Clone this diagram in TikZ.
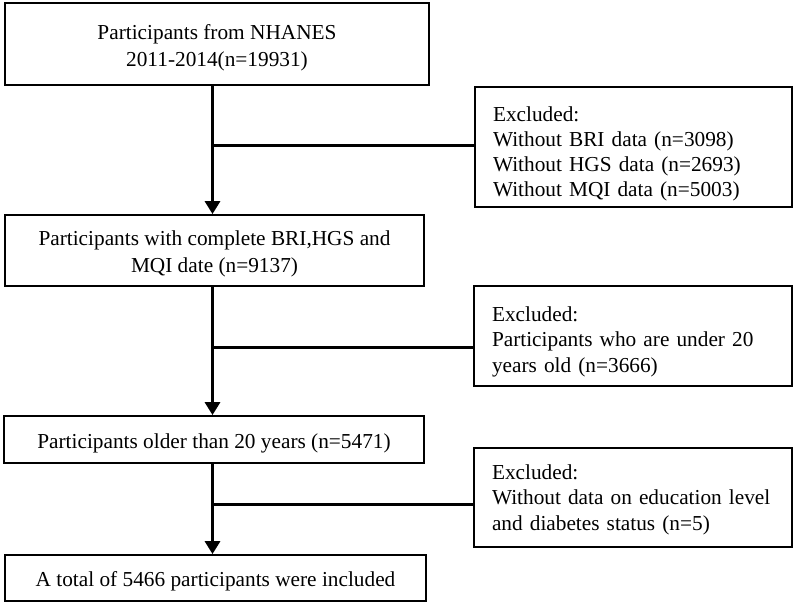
\documentclass[tikz,border=0pt]{standalone}
\usepackage{fontspec}
\setmainfont{Liberation Serif}
\usetikzlibrary{arrows.meta}
\newcommand{\topstrut}[1]{\rule{0pt}{#1}}
\tikzset{
  mainbox/.style={draw=black, line width=1.8bp, align=center, inner sep=0pt,
    font=\fontsize{21.3bp}{27bp}\selectfont},
  exbox/.style={draw=black, line width=1.8bp, align=left, inner xsep=18bp, inner ysep=0pt,
    font=\fontsize{21.3bp}{25.5bp}\selectfont},
  flow/.style={line width=3.4bp, -{Triangle[length=13bp,width=15bp]}},
  branch/.style={line width=3bp}
}
\begin{document}
\begin{tikzpicture}[x=1bp,y=-1bp]
\useasboundingbox (0,0) rectangle (799,608);
\node[mainbox, minimum width=424bp, minimum height=82bp] (b1) at (217,44) {\topstrut{22bp}Participants from NHANES\\2011-2014(n=19931)};
\node[exbox, minimum width=317bp, minimum height=120bp, text width=281bp, font=\fontsize{21.3bp}{25bp}\selectfont] (e1) at (633.5,147) {\topstrut{28bp}Excluded:\\Without BRI data (n=3098)\\Without HGS data (n=2693)\\Without MQI data (n=5003)};
\node[mainbox, minimum width=419bp, minimum height=71bp] (b2) at (214.5,250.5) {\topstrut{21bp}Participants with complete BRI,HGS and\\MQI date (n=9137)};
\node[exbox, minimum width=318bp, minimum height=100bp, text width=282bp] (e2) at (633,336) {\topstrut{26bp}Excluded:\\Participants who are under 20\\years old (n=3666)};
\node[mainbox, minimum width=420bp, minimum height=47bp] (b3) at (214,439.5) {\topstrut{23bp}Participants older than 20 years (n=5471)};
\node[exbox, minimum width=318bp, minimum height=99bp, text width=282bp] (e3) at (633,497.5) {\topstrut{19bp}Excluded:\\Without data on education level\\and diabetes status (n=5)};
\node[mainbox, minimum width=421bp, minimum height=46bp] (b4) at (215.5,578) {\topstrut{21bp}A total of 5466 participants were included};

\coordinate (ax) at (212.5,0);
\coordinate (j1) at (212.5,146);
\coordinate (j2) at (212.5,347);
\coordinate (j3) at (212.5,504);

\draw[flow] (b1.south -| ax) -- (b2.north -| ax);
\draw[flow] (b2.south -| ax) -- (b3.north -| ax);
\draw[flow] (b3.south -| ax) -- (b4.north -| ax);
\draw[branch] (j1) -- (j1 -| e1.west);
\draw[branch] (j2) -- (j2 -| e2.west);
\draw[branch] (j3) -- (j3 -| e3.west);
\end{tikzpicture}
\end{document}
